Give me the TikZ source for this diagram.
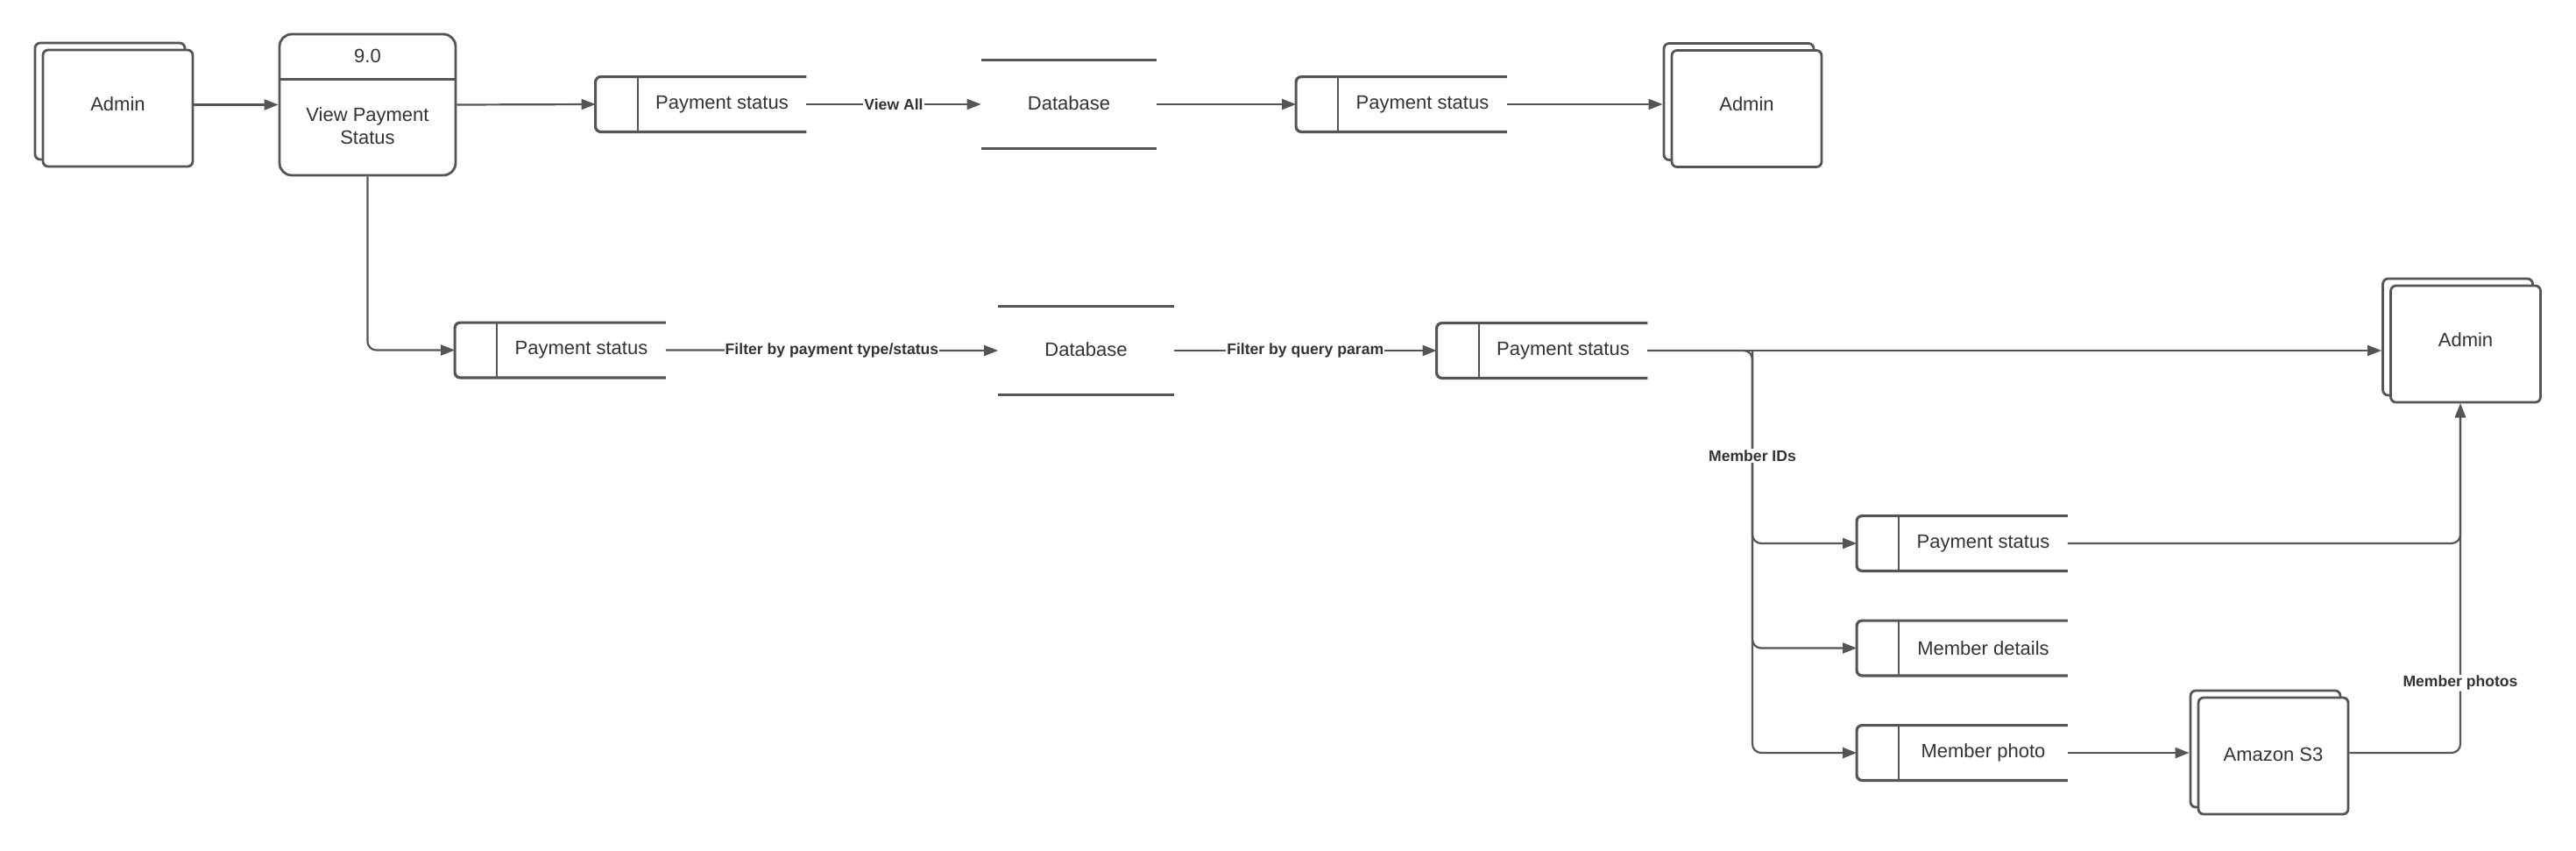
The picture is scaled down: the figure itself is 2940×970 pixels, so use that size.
\documentclass[tikz,border=0pt]{standalone}
\usepackage{fontspec}
\setmainfont{Liberation Sans}
\usetikzlibrary{arrows.meta,shadows,calc}
\definecolor{lc}{HTML}{555555}
\definecolor{tc}{HTML}{333333}
\newcommand\storeshape[1]{%
  \draw[draw=lc,line width=1.6pt,rounded corners=3pt] (#1.north east) -- (#1.north west) -- (#1.south west) -- (#1.south east);
  \draw[draw=lc,line width=1pt] ($(#1.north west)+(24pt,0)$) -- ($(#1.south west)+(24pt,0)$);}
\newcommand\dbshape[1]{%
  \draw[draw=lc,line width=1.8pt] (#1.north west) -- (#1.north east) (#1.south west) -- (#1.south east);}
\begin{document}
\begin{tikzpicture}[x=0.5pt,y=-0.5pt,
  every node/.style={text=tc},
  txt/.style={inner sep=0pt,font=\fontsize{11}{13}\selectfont},
  ent/.style={txt,draw=lc,line width=1.4pt,fill=white,rounded corners=3pt,
    minimum width=85.5pt,minimum height=66.5pt,
    copy shadow={shadow xshift=-4.5pt,shadow yshift=4pt,draw=lc,fill=white,line width=1.4pt}},
  proc/.style={draw=lc,line width=1.4pt,rounded corners=7pt,minimum width=100.5pt,minimum height=80.5pt,inner sep=0pt},
  store/.style={txt,minimum width=120pt,minimum height=31pt},
  db/.style={txt,minimum width=100pt,minimum height=50pt},
  flow/.style={draw=lc,line width=1.1pt,-{Triangle[length=8pt,width=6pt]}},
  lbl/.style={fill=white,inner sep=0.6pt,text=tc,font=\bfseries\fontsize{8.8}{10}\selectfont}]
\fill[white] (0,0) rectangle (2940,970);
\useasboundingbox (0,0) rectangle (2940,970);
% row 1
\node[ent] (a1) at (134.5,123.5) {\raisebox{5pt}{Admin}};
\node[proc] (p) at (419.5,119.5) {};
\draw[draw=lc,line width=1.4pt] ($(p.north west)+(0,-26.5pt)$) -- ($(p.north east)+(0,-26.5pt)$);
\node[txt] (pn) at (419.5,64) {9.0};
\node[txt,align=center] (pt) at (419.5,144) {View Payment\\Status};
\node[store] (s1) at (800,119) {\hspace*{24pt}Payment status};
\storeshape{s1}
\node[db] (d1) at (1220,119) {\raisebox{1.5pt}{Database}};
\dbshape{d1}
\node[store] (s2) at (1599.5,119) {\hspace*{24pt}Payment status};
\storeshape{s2}
\node[ent] (a2) at (1993.5,124) {\raisebox{5pt}{Admin}};
% row 2
\node[store] (s3) at (639.5,399.5) {\hspace*{24pt}Payment status};
\storeshape{s3}
\node[db] (d2) at (1239.5,400) {\raisebox{1.5pt}{Database}};
\dbshape{d2}
\node[store] (s4) at (1760,400) {\hspace*{24pt}Payment status};
\storeshape{s4}
\node[ent] (a3) at (2814,392.5) {\raisebox{4.5pt}{Admin}};
\node[store] (s5) at (2239.5,620) {\hspace*{24pt}Payment status};
\storeshape{s5}
\node[store] (s6) at (2239.5,739.5) {\hspace*{24pt}Member details};
\storeshape{s6}
\node[store] (s7) at (2239.5,859) {\hspace*{24pt}Member photo};
\storeshape{s7}
\node[ent] (amz) at (2594.5,862.5) {\raisebox{2pt}{Amazon S3}};
% connectors
\draw[flow] (a1.east |- p.west) -- (p.west);
\draw[flow] (p.east) -- (s1.west);
\draw[flow] (s1.east) -- node[lbl] (l1) {View All} (d1.west);
\draw[flow] (d1.east) -- (s2.west);
\draw[flow] (s2.east) -- ($(a2.west |- s2.east)+(-4.5pt,0)$);
\draw[flow,rounded corners=5pt] (p.south) |- (s3.west);
\draw[flow] (s3.east) -- node[lbl] (l2) {Filter by payment type/status} (d2.west);
\draw[flow] (d2.east) -- node[lbl] (l3) {Filter by query param} (s4.west);
\draw[flow] (s4.east) -- ($(a3.west |- s4.east)+(-4.5pt,0)$);
\coordinate (br) at (2000,400);
\draw[flow,rounded corners=5pt] (s4.east) -- (br) |- (s5.west);
\draw[flow,rounded corners=5pt] (br) |- (s6.west);
\draw[flow,rounded corners=5pt] (br) |- (s7.west);
\node[lbl] (l4) at (2000,520) {Member IDs};
\draw[flow] (s7.east) -- ($(amz.west |- s7.east)+(-4.5pt,0)$);
\draw[flow,rounded corners=5pt] (s5.east) -| ($(a3.south)+(-3pt,0)$);
\draw[flow,rounded corners=5pt] (amz.east |- s7.east) -| node[lbl,pos=0.6] (l5) {Member photos} ($(a3.south)+(-3pt,0)$);
\end{tikzpicture}
\end{document}
